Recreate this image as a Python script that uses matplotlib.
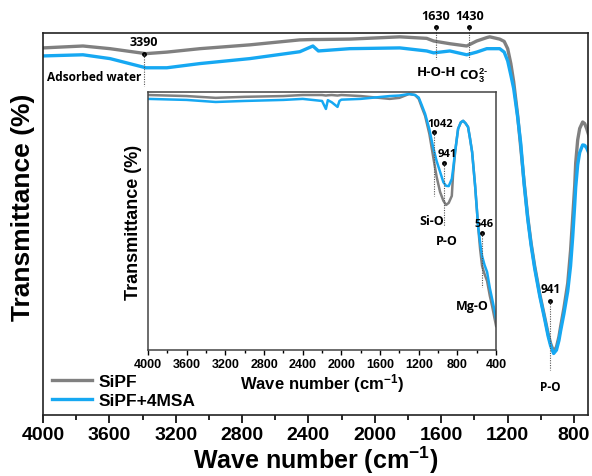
import matplotlib.pyplot as plt
from matplotlib.ticker import MultipleLocator

plt.rcParams["font.family"] = ["Liberation Sans", "DejaVu Sans"]
plt.rcParams["font.weight"] = "bold"
plt.rcParams["mathtext.fontset"] = "custom"
plt.rcParams["mathtext.rm"] = "Liberation Sans:bold"
plt.rcParams["mathtext.it"] = "Liberation Sans:bold"
plt.rcParams["mathtext.bf"] = "Liberation Sans:bold"

# main spectrum (wave number cm-1, transmittance in arbitrary %)
wn_main = [4000, 3759, 3596, 3380, 3253, 3054, 2753, 2452, 2373, 2340, 2151, 1849,
           1687, 1645, 1548, 1446, 1386, 1325, 1307, 1247, 1220, 1199, 1180, 1163,
           1139, 1120, 1100, 1078, 1058, 1036, 1005, 976, 955, 940, 922, 905, 890,
           880, 860, 837, 820, 807, 795, 789, 777, 765, 747, 735, 723, 705]
sipf_main = [96.1, 96.6, 95.9, 94.6, 95.0, 95.9, 96.9, 98.2, 98.3, 98.3, 98.4, 99.0,
             98.6, 97.9, 97.2, 96.6, 97.9, 98.8, 99.0, 98.4, 97.8, 95.9, 92.0, 87.3,
             78.5, 69.9, 61.0, 51.8, 45.0, 38.9, 31.5, 25.6, 21.2, 18.7, 16.6, 17.8, 20.5,
             23.1, 28.0, 34.5, 43.0, 51.8, 60.0, 66.0, 72.0, 75.0, 76.7, 76.3, 75.0, 72.5]
msa_main = [94.0, 94.3, 93.3, 90.9, 90.9, 92.0, 93.3, 95.1, 96.6, 95.3, 95.9, 96.1,
            95.3, 94.8, 95.3, 94.3, 95.0, 95.9, 95.9, 95.9, 95.0, 92.7, 89.0, 85.5,
            78.0, 71.0, 60.5, 51.3, 44.5, 38.3, 31.0, 25.1, 20.6, 18.1, 16.1, 17.0, 19.5,
            22.0, 26.5, 32.4, 39.0, 46.6, 55.0, 59.6, 65.5, 68.7, 70.7, 70.6, 69.9, 68.1]

# inset spectrum (wave number cm-1, transmittance %)
wn_ins = [4000, 3600, 3300, 3000, 2600, 2400, 2200, 2160, 2140, 2100, 2040, 2020,
          2000, 1800, 1500, 1400, 1300, 1238, 1200, 1170, 1134, 1090, 1052, 1015, 979,
          945, 917, 890, 858, 845, 824, 793, 765, 741, 715, 690, 670, 648, 617, 586,
          565, 545, 520, 493, 465, 441, 420, 400]
sipf_ins = [98.8, 98.4, 97.7, 98.1, 98.4, 98.8, 98.8, 98.6, 98.7, 98.8, 98.6, 98.7,
            98.8, 98.4, 97.3, 97.7, 99.2, 98.8, 97.3, 94.2, 90.7, 83.7, 75.2, 67.1, 61.2,
            57.8, 56.2, 57.0, 59.7, 68.0, 76.7, 85.7, 88.2, 88.8, 87.8, 86.4, 82.0, 76.7,
            63.6, 48.0, 39.0, 32.6, 29.5, 26.7, 21.0, 17.0, 13.0, 9.3]
msa_ins = [97.3, 96.9, 96.1, 96.5, 96.9, 97.3, 96.5, 93.4, 96.8, 96.0, 94.2, 96.5,
           97.0, 97.3, 98.4, 98.6, 99.2, 98.8, 97.8, 95.0, 91.5, 85.5, 78.7, 73.2, 69.0,
           65.0, 63.6, 63.5, 66.3, 70.0, 76.7, 85.7, 88.2, 88.8, 87.8, 86.4, 82.0, 76.7,
           63.6, 48.0, 41.5, 36.4, 33.0, 30.2, 24.0, 19.8, 16.0, 12.0]

main_ticks = [4000, 3600, 3200, 2800, 2400, 2000, 1600, 1200, 800]
inset_ticks = [4000, 3600, 3200, 2800, 2400, 2000, 1600, 1200, 800, 400]

gray = "#808080"
blue = "#16a8f2"
afont = ["Open Sans", "DejaVu Sans"]

fig = plt.figure(figsize=(5.92, 4.77), dpi=100)
ax = fig.add_axes([0.0726, 0.1279, 0.9206, 0.8008])
ax.plot(wn_main, sipf_main, color=gray, lw=2.4, label="SiPF")
ax.plot(wn_main, msa_main, color=blue, lw=2.4, label="SiPF+4MSA")
ax.set_xlim(4000, 715)
ax.set_ylim(0.0, 100)
ax.set_xticks(main_ticks)
ax.xaxis.set_minor_locator(MultipleLocator(200))
ax.set_yticks([])
ax.tick_params(axis="x", which="major", direction="out", length=6, width=1.2,
               labelsize=14, pad=2)
ax.tick_params(axis="x", which="minor", direction="out", length=3.5, width=1.2)
for lab in ax.get_xticklabels():
    lab.set_fontweight("bold")
for sp in ax.spines.values():
    sp.set_linewidth(1.2)
    sp.set_color("#222222")
ax.set_xlabel("Wave number (cm$^{-1}$)", fontsize=18, fontweight="bold", labelpad=0.5)
ax.set_ylabel("Transmittance (%)", fontsize=19, fontweight="bold")
ax.yaxis.set_label_coords(-0.015, 0.547)
ax.legend(loc="lower left", frameon=False, fontsize=12.5, handlelength=2.3,
          handletextpad=0.4, borderaxespad=0.1, labelspacing=0.25,
          bbox_to_anchor=(0.0, -0.005))

# main annotations
dot = dict(marker="o", ms=2.5, color="black", clip_on=False)
ln = dict(color="#555555", lw=0.8, ls=(0, (1, 1.2)), clip_on=False)

ax.plot([3390], [94.6], **dot)
ax.plot([3390, 3390], [94.6, 86.0], **ln)
ax.text(3390, 96.0, "3390", ha="center", va="bottom", fontsize=9, fontweight="bold", family=afont)
ax.text(3405, 88.6, "Adsorbed water", ha="right", va="center", fontsize=8.6,
        fontweight="bold", family=afont)

ax.plot([1630], [101.6], **dot)
ax.plot([1630, 1630], [101.6, 93.3], **ln)
ax.text(1630, 102.8, "1630", ha="center", va="bottom", fontsize=9, fontweight="bold", family=afont)
ax.text(1630, 89.8, "H-O-H", ha="center", va="center", fontsize=9.5,
        fontweight="bold", family=afont)

ax.plot([1430], [101.6], **dot)
ax.plot([1430, 1430], [101.6, 93.3], **ln)
ax.text(1430, 102.8, "1430", ha="center", va="bottom", fontsize=9, fontweight="bold", family=afont)
ax.text(1405, 89.0, "CO$_3^{2\\text{-}}$", ha="center", va="center", fontsize=9.5,
        fontweight="bold", family=afont)

ax.plot([941], [29.8], **dot)
ax.plot([941, 941], [29.8, 11.7], **ln)
ax.text(941, 31.5, "941", ha="center", va="bottom", fontsize=8.5, fontweight="bold", family=afont)
ax.text(941, 7.5, "P-O", ha="center", va="center", fontsize=8.5, fontweight="bold", family=afont)

# inset
ins = fig.add_axes([0.25, 0.2642, 0.588, 0.541])
ins.plot(wn_ins, sipf_ins, color=gray, lw=1.8)
ins.plot(wn_ins, msa_ins, color=blue, lw=1.8)
ins.set_xlim(4000, 400)
ins.set_ylim(0, 100)
ins.set_xticks(inset_ticks)
ins.xaxis.set_minor_locator(MultipleLocator(200))
ins.set_yticks([])
ins.tick_params(axis="x", which="major", direction="out", length=3.5, width=1,
                labelsize=9, pad=2)
ins.tick_params(axis="x", which="minor", direction="out", length=2, width=1)
for lab in ins.get_xticklabels():
    lab.set_fontweight("bold")
for sp in ins.spines.values():
    sp.set_linewidth(1.1)
    sp.set_color("#444444")
ins.set_xlabel("Wave number (cm$^{-1}$)", fontsize=12, fontweight="bold", labelpad=1)
ins.set_ylabel("Transmittance (%)", fontsize=13, fontweight="bold", labelpad=4)

sm = dict(fontsize=8, fontweight="bold", family=afont)
md = dict(fontsize=9, fontweight="bold", family=afont)

ins.plot([1042], [84.5], **dot)
ins.plot([1042, 1042], [84.5, 59.7], **ln)
ins.text(975, 85.5, "1042", ha="center", va="bottom", **sm)
ins.text(1065, 50.0, "Si-O", ha="center", va="center", **md)

ins.plot([941], [72.5], **dot)
ins.plot([941, 941], [72.5, 48.1], **ln)
ins.text(905, 74.0, "941", ha="center", va="bottom", **sm)
ins.text(910, 42.6, "P-O", ha="center", va="center", **md)

ins.plot([546], [45.3], **dot)
ins.plot([546, 546], [45.3, 24.4], **ln)
ins.text(520, 47.0, "546", ha="center", va="bottom", **sm)
ins.text(650, 17.4, "Mg-O", ha="center", va="center", **md)

fig.savefig("out.png", dpi=100)
